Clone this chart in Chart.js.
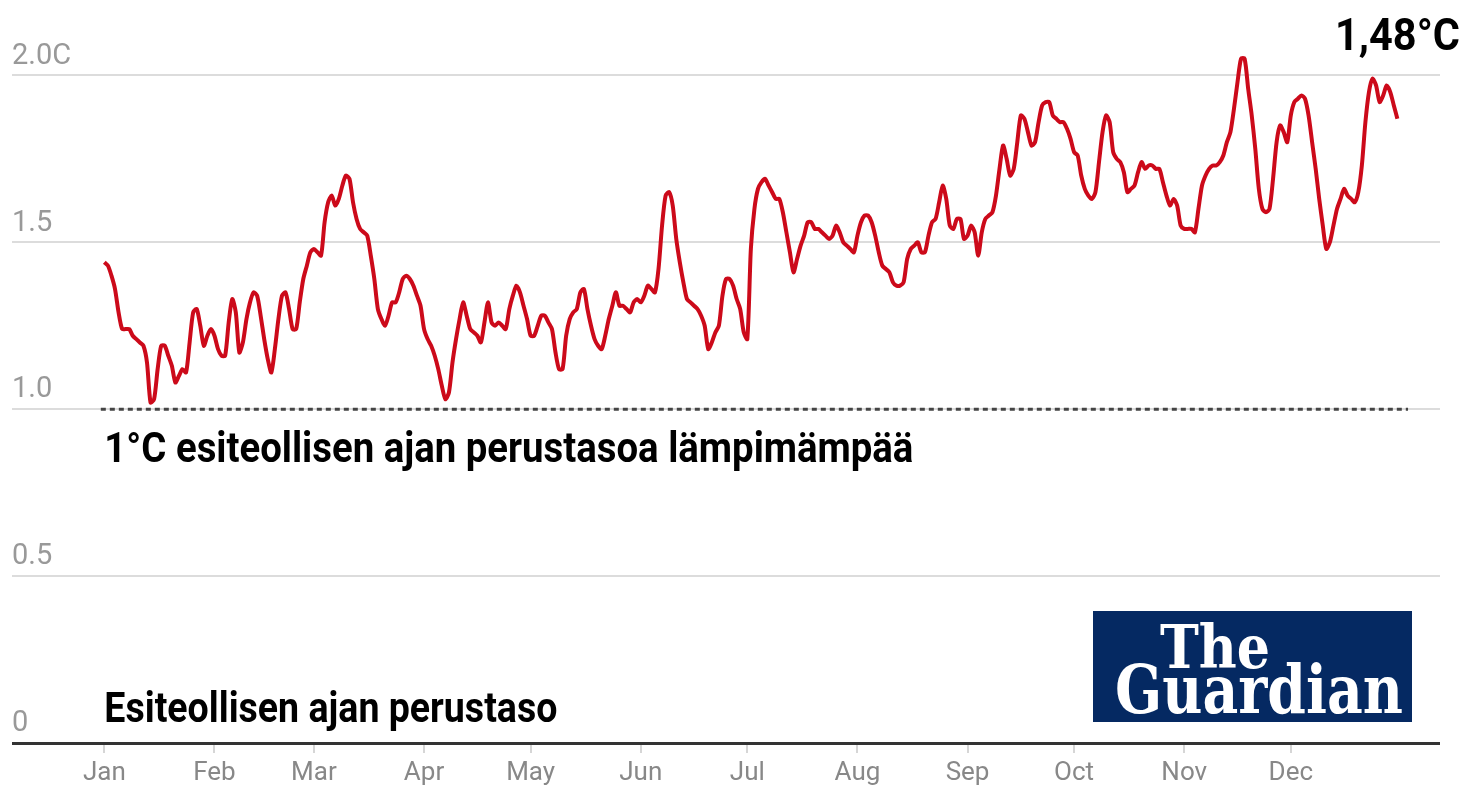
<!DOCTYPE html>
<html>
<head>
<meta charset="utf-8">
<script src="https://cdn.jsdelivr.net/npm/chart.js@4.4.0/dist/chart.umd.min.js"></script>
<style>
    html, body { margin: 0; padding: 0; background: #fff; }
    #wrap { width: 1466px; height: 789px; }
</style>
</head>
<body>
<div id="wrap"><canvas id="temp-chart" width="1466" height="789"></canvas></div>
<script>
const monthLabels = ["Jan", "Feb", "Mar", "Apr", "May", "Jun", "Jul", "Aug", "Sep", "Oct", "Nov", "Dec"];
const monthStartDays = [0, 31, 59, 90, 120, 151, 181, 212, 243, 273, 304, 334];
const yTickValues = [0, 0.5, 1, 1.5, 2];
const yTickLabels = ["0", "0.5", "1.0", "1.5", "2.0C"];

// daily global temperature above pre-industrial baseline (°C), day 0 = 1 Jan
const dailyAnomaly = [
    1.44, 1.43, 1.40, 1.36, 1.29, 1.24, 1.24, 1.24, 1.22, 1.21,
    1.20, 1.19, 1.14, 1.02, 1.03, 1.12, 1.19, 1.19, 1.16, 1.13,
    1.08, 1.10, 1.12, 1.11, 1.20, 1.29, 1.30, 1.25, 1.19, 1.22,
    1.24, 1.22, 1.18, 1.16, 1.16, 1.26, 1.33, 1.29, 1.17, 1.20,
    1.27, 1.32, 1.35, 1.34, 1.28, 1.21, 1.15, 1.11, 1.18, 1.27,
    1.34, 1.35, 1.30, 1.24, 1.24, 1.32, 1.39, 1.43, 1.47, 1.48,
    1.47, 1.46, 1.56, 1.62, 1.64, 1.61, 1.63, 1.67, 1.70, 1.69,
    1.62, 1.57, 1.54, 1.53, 1.52, 1.46, 1.39, 1.30, 1.27, 1.25,
    1.28, 1.32, 1.32, 1.35, 1.39, 1.40, 1.39, 1.37, 1.34, 1.31,
    1.24, 1.21, 1.19, 1.16, 1.12, 1.07, 1.03, 1.05, 1.14, 1.21,
    1.27, 1.32, 1.28, 1.24, 1.23, 1.22, 1.20, 1.26, 1.32, 1.26,
    1.25, 1.26, 1.25, 1.24, 1.30, 1.34, 1.37, 1.35, 1.31, 1.27,
    1.22, 1.22, 1.25, 1.28, 1.28, 1.26, 1.24, 1.17, 1.12, 1.12,
    1.22, 1.27, 1.29, 1.30, 1.35, 1.36, 1.30, 1.25, 1.21, 1.19,
    1.18, 1.22, 1.27, 1.31, 1.35, 1.31, 1.31, 1.30, 1.29, 1.32,
    1.33, 1.32, 1.34, 1.37, 1.36, 1.35, 1.42, 1.55, 1.64, 1.65,
    1.61, 1.51, 1.44, 1.38, 1.33, 1.32, 1.31, 1.30, 1.28, 1.25,
    1.18, 1.20, 1.23, 1.25, 1.34, 1.39, 1.39, 1.37, 1.33, 1.30,
    1.23, 1.21, 1.48, 1.60, 1.66, 1.68, 1.69, 1.67, 1.65, 1.63,
    1.63, 1.59, 1.53, 1.47, 1.41, 1.45, 1.49, 1.52, 1.56, 1.56,
    1.54, 1.54, 1.53, 1.52, 1.51, 1.52, 1.55, 1.53, 1.50, 1.49,
    1.48, 1.47, 1.52, 1.56, 1.58, 1.58, 1.56, 1.52, 1.47, 1.43,
    1.42, 1.41, 1.38, 1.37, 1.37, 1.38, 1.45, 1.48, 1.49, 1.50,
    1.47, 1.47, 1.52, 1.56, 1.57, 1.62, 1.67, 1.63, 1.55, 1.54,
    1.57, 1.57, 1.51, 1.52, 1.55, 1.53, 1.46, 1.53, 1.57, 1.58,
    1.59, 1.64, 1.72, 1.79, 1.75, 1.70, 1.72, 1.80, 1.88, 1.87,
    1.83, 1.79, 1.80, 1.86, 1.91, 1.92, 1.92, 1.88, 1.87, 1.86,
    1.86, 1.84, 1.81, 1.77, 1.76, 1.70, 1.66, 1.64, 1.63, 1.65,
    1.74, 1.83, 1.88, 1.86, 1.77, 1.75, 1.74, 1.71, 1.65, 1.66,
    1.67, 1.71, 1.74, 1.72, 1.73, 1.73, 1.72, 1.72, 1.68, 1.64,
    1.61, 1.63, 1.61, 1.55, 1.54, 1.54, 1.54, 1.53, 1.60, 1.67,
    1.70, 1.72, 1.73, 1.73, 1.74, 1.76, 1.80, 1.83, 1.90, 1.98,
    2.05, 2.05, 1.96, 1.88, 1.78, 1.66, 1.60, 1.59, 1.60, 1.69,
    1.80, 1.85, 1.83, 1.80, 1.88, 1.92, 1.93, 1.94, 1.93, 1.88,
    1.80, 1.72, 1.63, 1.55, 1.48, 1.50, 1.55, 1.60, 1.63, 1.66,
    1.64, 1.63, 1.62, 1.65, 1.73, 1.86, 1.95, 1.99, 1.97, 1.92,
    1.94, 1.97, 1.95, 1.91, 1.87
];

const referenceLevel = 1.0;
const referenceSpanDays = [-1, 367];

const headlineValue = "1,48°C";
const referenceText = "1°C esiteollisen ajan perustasoa lämpimämpää";
const baselineText = "Esiteollisen ajan perustaso";

const condensed = "'Liberation Sans Narrow', 'Roboto', sans-serif";

// text squeezed/stretched to a given width so it lines up whatever font is used
function drawFitted(ctx, text, left, baseline, width, font, color) {
    ctx.save();
    ctx.font = font;
    const w = ctx.measureText(text).width;
    ctx.translate(left, baseline);
    ctx.scale(width / w, 1);
    ctx.fillStyle = color;
    ctx.textAlign = "left";
    ctx.textBaseline = "alphabetic";
    ctx.fillText(text, 0, 0);
    ctx.restore();
}

const annotations = {
    id: "annotations",
    afterDraw(chart) {
        const { ctx, chartArea } = chart;
        const x = chart.scales.x;
        const y = chart.scales.y;

        drawFitted(ctx, referenceText, x.getPixelForValue(0), y.getPixelForValue(referenceLevel) + 53, 809,
            "bold 42px " + condensed, "#000");
        drawFitted(ctx, baselineText, x.getPixelForValue(0), y.getPixelForValue(0) - 21, 453,
            "bold 42px " + condensed, "#000");
        drawFitted(ctx, headlineValue, chartArea.right - 105, 50, 125,
            "bold 44px " + condensed, "#000");

        // logo
        const boxRight = chartArea.right - 28;
        const boxBottom = y.getPixelForValue(0) - 21;
        const boxW = 319, boxH = 111;
        const bx = boxRight - boxW, by = boxBottom - boxH;
        ctx.save();
        ctx.fillStyle = "#052962";
        ctx.fillRect(bx, by, boxW, boxH);
        ctx.restore();
        drawFitted(ctx, "The", bx + 67, by + 57, 110, "bold 60px 'DejaVu Serif', serif", "#fff");
        drawFitted(ctx, "Guardian", bx + 22, by + 102, 288, "bold 68px 'DejaVu Serif', serif", "#fff");
    }
};

const ctx = document.getElementById("temp-chart").getContext("2d");
new Chart(ctx, {
    type: "line",
    data: {
        datasets: [
            {
                data: dailyAnomaly.map((v, i) => ({ x: i, y: v })),
                borderColor: "#cc0a1a",
                borderWidth: 4,
                pointRadius: 0,
                tension: 0.25,
                fill: false,
            },
            {
                data: referenceSpanDays.map((d) => ({ x: d, y: referenceLevel })),
                borderColor: "#444",
                borderWidth: 3,
                borderDash: [5, 4],
                pointRadius: 0,
                fill: false,
            },
        ],
    },
    options: {
        responsive: false,
        animation: false,
        devicePixelRatio: 1,
        layout: { padding: { left: 12, right: 26, top: 42, bottom: -4 } },
        plugins: {
            legend: { display: false },
            tooltip: { enabled: false },
        },
        scales: {
            x: {
                type: "linear",
                min: -26,
                max: 376,
                afterBuildTicks: (axis) => {
                    axis.ticks = monthStartDays.map((v) => ({ value: v }));
                },
                border: { display: false },
                grid: {
                    drawOnChartArea: false,
                    drawTicks: true,
                    tickLength: 10,
                    color: "#d6d6d6",
                    lineWidth: 2,
                },
                ticks: {
                    autoSkip: false,
                    maxRotation: 0,
                    padding: 7,
                    color: "#888",
                    font: { family: "Roboto", size: 26, lineHeight: 1 },
                    callback: (v, i) => monthLabels[i],
                },
            },
            y: {
                min: 0,
                max: 2.1,
                afterBuildTicks: (axis) => {
                    axis.ticks = yTickValues.map((v) => ({ value: v }));
                },
                border: { display: false },
                grid: {
                    drawTicks: false,
                    color: (c) => (c.tick && c.tick.value === 0 ? "#333" : "#dcdcdc"),
                    lineWidth: (c) => (c.tick && c.tick.value === 0 ? 3 : 2),
                },
                ticks: {
                    mirror: true,
                    padding: 0,
                    labelOffset: -19,
                    color: "#999",
                    font: { family: "Roboto", size: 29 },
                    callback: (v, i) => yTickLabels[i],
                },
            },
        },
    },
    plugins: [annotations],
});
</script>
</body>
</html>
